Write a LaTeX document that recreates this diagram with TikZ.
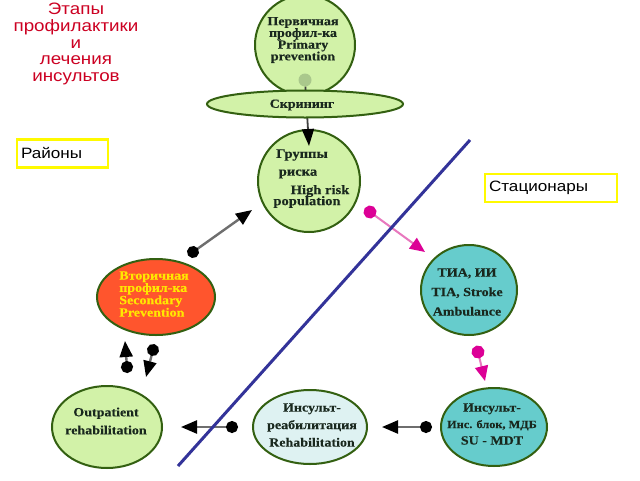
\documentclass[tikz,border=0pt]{standalone}
\usepackage{fontspec}
\setmainfont{Liberation Serif}
\setsansfont{Liberation Sans}
\newfontfamily\wideserif[FakeStretch=1.12,BoldFeatures={FakeBold=0.3}]{Liberation Serif}
\newfontfamily\widesans[FakeStretch=1.14]{Liberation Sans}
\usetikzlibrary{arrows.meta,shapes.geometric}
\definecolor{lgreen}{RGB}{210,242,168}
\definecolor{dgreen}{RGB}{51,96,17}
\definecolor{tealc}{RGB}{102,204,204}
\definecolor{lcyan}{RGB}{222,242,242}
\definecolor{orng}{RGB}{255,85,45}
\definecolor{ylw}{RGB}{255,232,0}
\definecolor{txt}{RGB}{25,40,30}
\definecolor{ttl}{RGB}{204,0,34}
\definecolor{navy}{RGB}{51,51,153}
\definecolor{mag}{RGB}{220,0,150}
\definecolor{pinkl}{RGB}{232,120,190}
\definecolor{boxy}{RGB}{255,250,0}
\definecolor{lnk}{RGB}{110,110,110}
\definecolor{pdotc}{RGB}{170,200,140}
\newcommand\myfs[2]{\fontsize{#1}{#2}\selectfont}
\tikzset{
 blob/.style={ellipse, draw=dgreen, line width=2pt, inner sep=0pt},
 lbl/.style={text=txt, align=center, inner sep=0pt, font=\wideserif\bfseries},
 blk/.style={draw=lnk, line width=2.4pt, {Circle[length=12pt,color=black]}-{Triangle[length=16pt,width=13pt,color=black]}, shorten <=-6pt},
 mg/.style={draw=pinkl, line width=2pt, {Circle[length=13pt,color=mag]}-{Triangle[length=15pt,width=13pt,color=mag]}, shorten <=-6.5pt},
 regbox/.style={draw=boxy, line width=2.8pt, fill=white, minimum height=28pt, inner sep=0pt, font=\widesans\myfs{15}{18}, text=black},
}
\begin{document}
\begin{tikzpicture}[x=1pt,y=-1pt]
\useasboundingbox (0,0) rectangle (640,480);
\fill[white] (0,0) rectangle (640,480);
% title
\node[align=center, inner sep=0pt, font=\widesans\myfs{16.5}{16.7}, text=ttl] (title) at (76,44) {Этапы\\профилактики\\и\\лечения\\инсультов};
% region boxes
\node[regbox, minimum width=91pt, text width=83pt, align=left] (rayony) at (62.5,153.5) {Районы};
\node[regbox, minimum width=132pt, text width=124pt, align=left] (stats) at (551,188) {Стационары};
% shapes
\node[blob, fill=lgreen, minimum width=100pt, minimum height=100pt] (prim) at (305,45) {};
\node[lbl, font=\wideserif\bfseries\myfs{12.5}{11.7}] (primt) at (303,40) {Первичная\\профил-ка\\Primary\\prevention};
\node[blob, fill=lgreen, minimum width=102pt, minimum height=102pt] (risk) at (309,181) {};
\node[lbl, font=\wideserif\bfseries\myfs{13}{13}] (rt1) at (302,155) {Группы};
\node[lbl, font=\wideserif\bfseries\myfs{13}{13}] (rt2) at (298,174) {риска};
\node[lbl, font=\wideserif\bfseries\myfs{13}{13}] (rt3) at (320,191) {High risk};
\node[lbl, font=\wideserif\bfseries\myfs{13}{13}] (rt4) at (307,202) {population};
\node[circle, fill=pdotc, minimum size=13pt, inner sep=0pt] (pdot) at (305,80) {};
\draw[draw=black!75, line width=1.8pt, -{Triangle[length=17pt,width=12pt,color=black]}] (pdot) -- ([yshift=-17pt]risk.north);
\node[blob, fill=lgreen, minimum width=196pt, minimum height=27pt] (screen) at (305,104) {};
\node[lbl, font=\wideserif\bfseries\myfs{12.5}{13}] (screent) at (302,105) {Скрининг};
\node[blob, fill=orng, minimum width=118pt, minimum height=76pt] (sec) at (156,297) {};
\node[lbl, align=left, text=ylw, font=\wideserif\bfseries\myfs{12.5}{10.7}] (sect) at (154,294) {Вторичная\\профил-ка\\Secondary\\Prevention};
\node[blob, fill=tealc, minimum width=96pt, minimum height=90pt] (tia) at (469,290) {};
\node[lbl, font=\wideserif\bfseries\myfs{12.5}{19.5}] (tiat) at (467,292) {ТИА, ИИ\\TIA, Stroke\\Ambulance};
\node[blob, fill=lgreen, minimum width=110pt, minimum height=82pt] (out) at (107,427) {};
\node[lbl, font=\wideserif\bfseries\myfs{12.5}{18}] (outt) at (106,421) {Outpatient\\rehabilitation};
\node[blob, fill=lcyan, minimum width=114pt, minimum height=74pt] (rehab) at (310,427) {};
\node[lbl, font=\wideserif\bfseries\myfs{12.5}{17.5}] (rehabt) at (312,425) {Инсульт-\\реабилитация\\Rehabilitation};
\node[blob, fill=tealc, minimum width=106pt, minimum height=78pt] (su) at (494,427) {};
\node[lbl, font=\wideserif\bfseries\myfs{12.5}{16.5}] (sut) at (492,424) {Инсульт-\\{\myfs{11}{16.5}Инс. блок, МДБ}\\SU - MDT};
% arrows
\coordinate (a1s) at (193,252); \coordinate (a1e) at (252,210);
\draw[blk] (a1s) -- (a1e);
\coordinate (a2s) at (370,212); \coordinate (a2e) at (425,252);
\draw[mg] (a2s) -- (a2e);
\coordinate (a3s) at (478,352); \coordinate (a3e) at (485,381);
\draw[mg] (a3s) -- (a3e);
\coordinate (a4s) at (153,350); \coordinate (a4e) at (146,377);
\draw[blk] (a4s) -- (a4e);
\coordinate (a5s) at (127,367); \coordinate (a5e) at (125,341);
\draw[blk] (a5s) -- (a5e);
\draw[blk, shorten <=8pt, shorten >=14pt] (su.west) -- (rehab.east);
\draw[blk, shorten <=14pt, shorten >=18pt] (rehab.west) -- (out.east);
% divider
\coordinate (d1) at (470,140); \coordinate (d2) at (178,466);
\draw[navy, line width=3pt] (d1) -- (d2);
\end{tikzpicture}
\end{document}
